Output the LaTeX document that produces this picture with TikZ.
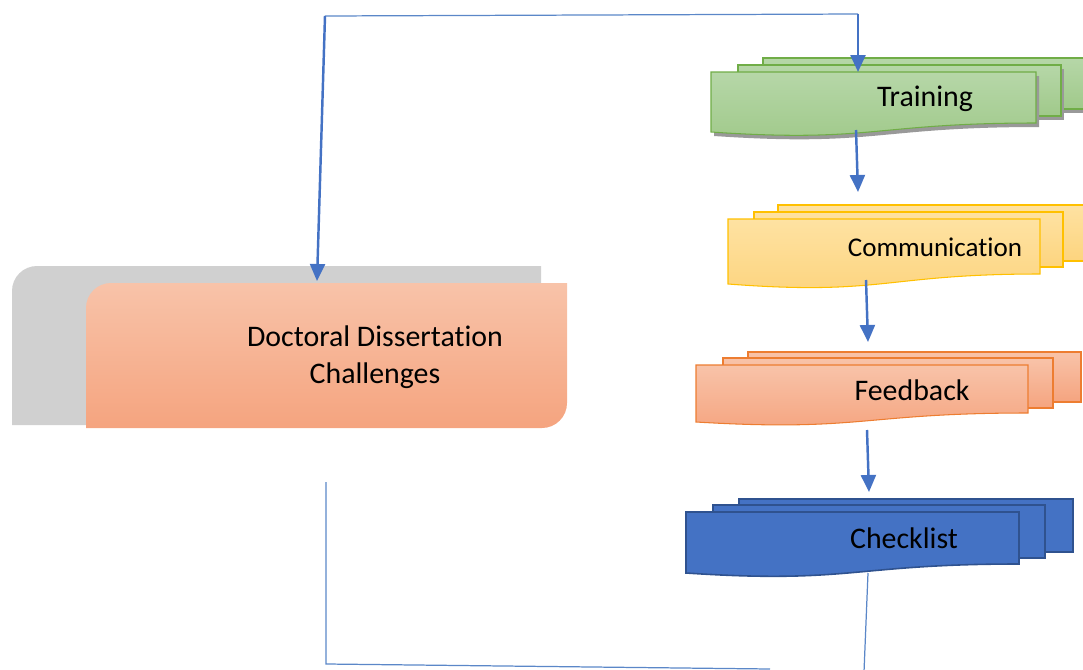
\documentclass[tikz,border=0pt]{standalone}
\usepackage{fontspec}
\setmainfont{Carlito}[RawFeature={-liga}]
\usetikzlibrary{arrows.meta,shadows}
\definecolor{linkblue}{HTML}{4472C4}
\definecolor{thinblue}{HTML}{5B87C8}
\definecolor{greenline}{HTML}{70AD47}
\definecolor{greentop}{HTML}{B6D7A8}
\definecolor{greenbot}{HTML}{A0C98A}
\definecolor{yellowline}{HTML}{FFC000}
\definecolor{yellowtop}{HTML}{FEE2A2}
\definecolor{yellowbot}{HTML}{FDD47E}
\definecolor{orangeline}{HTML}{ED7D31}
\definecolor{orangetop}{HTML}{F8C3A9}
\definecolor{orangebot}{HTML}{F5A47F}
\definecolor{blueline}{HTML}{2F528F}
\definecolor{bluefill}{HTML}{4472C4}
\definecolor{backgray}{HTML}{D0D0D0}
\tikzset{
  link/.style={linkblue, line width=1.4pt, -{Triangle[width=0.3cm,length=0.34cm]}},
  thinlink/.style={thinblue, line width=0.7pt},
  greendoc/.style={draw=greenline, line width=0.6pt, top color=greentop, bottom color=greenbot,
    drop shadow={shadow xshift=0.06cm, shadow yshift=-0.08cm, fill=black!40, opacity=1}},
  yellowdoc/.style={draw=yellowline, line width=0.6pt, top color=yellowtop, bottom color=yellowbot},
  orangedoc/.style={draw=orangeline, line width=0.6pt, top color=orangetop, bottom color=orangebot},
  bluedoc/.style={draw=blueline, line width=0.9pt, fill=bluefill},
  doctext/.style={font=\fontsize{17}{21}\selectfont, align=center},
}
\begin{document}
\begin{tikzpicture}[x=0.02cm, y=-0.02cm]
  \clip (0,0) rectangle (1083,670);
  %challenges
  \fill[backgray] (12,425) -- (12,291) arc[start angle=180, end angle=270, radius=25] -- (541,266) -- (541,425) -- cycle;
  \shade[top color=orangetop, bottom color=orangebot] (86,428) -- (86,308) arc[start angle=180, end angle=270, radius=25]
     -- (567,283) -- (567,403) arc[start angle=0, end angle=90, radius=25] -- cycle;
  \node[doctext] (ddc) at (375,357) {Doctoral Dissertation\\Challenges};
  %training
  \draw[greendoc] (763,58) rectangle (1090,109);
  \draw[greendoc] (738,65) rectangle (1061,116);
  \draw[greendoc] (711,72) -- (1036,72) -- (1036,123) .. controls (873,123) and (873,143) .. (711,132) -- cycle;
  \node[doctext] (train) at (925,99) {Training};
  %communication
  \draw[yellowdoc] (778,205) rectangle (1090,261);
  \draw[yellowdoc] (754,212) rectangle (1063,267);
  \draw[yellowdoc] (728,219) -- (1040,219) -- (1040,274) .. controls (884,274) and (884,296) .. (728,284) -- cycle;
  \node[doctext, font=\fontsize{15.4}{19}\selectfont] (comm) at (935,247) {Communication};
  %feedback
  \draw[orangedoc] (748,352) rectangle (1081,402);
  \draw[orangedoc] (723,358) rectangle (1053,408);
  \draw[orangedoc] (696,365) -- (1028,365) -- (1028,413) .. controls (862,413) and (862,432) .. (696,422) -- cycle;
  \node[doctext] (feed) at (912,390) {Feedback};
  %checklist
  \draw[bluedoc] (739,499) rectangle (1073,552);
  \draw[bluedoc] (713,505) rectangle (1045,558);
  \draw[bluedoc] (686,512) -- (1019,512) -- (1019,564) .. controls (852,564) and (852,584) .. (686,573) -- cycle;
  \node[doctext] (check) at (904,538) {Checklist};
  %connectors
  \coordinate (topleft) at (325,16);
  \coordinate (topright) at (858,14);
  \coordinate (ddcin) at (317,281);
  \coordinate (trainin) at (858,72);
  \coordinate (trainout) at (856,130);
  \coordinate (commin) at (858,192);
  \coordinate (commout) at (866,280);
  \coordinate (feedin) at (868,342);
  \coordinate (feedout) at (867,430);
  \coordinate (checkin) at (869,492);
  \coordinate (checkout) at (868,573);
  \coordinate (bottomright) at (864,672);
  \coordinate (ddcout) at (326,482);
  \coordinate (bottomleft) at (326,664);
  \coordinate (bottomend) at (770,669);
  \draw[thinlink] (topleft) -- (topright);
  \draw[link] (topleft) -- (ddcin);
  \draw[link] (topright) -- (trainin);
  \draw[link] (trainout) -- (commin);
  \draw[link] (commout) -- (feedin);
  \draw[link] (feedout) -- (checkin);
  \draw[thinlink] (checkout) -- (bottomright);
  \draw[thinlink] (ddcout) -- (bottomleft) -- (bottomend);
\end{tikzpicture}
\end{document}
